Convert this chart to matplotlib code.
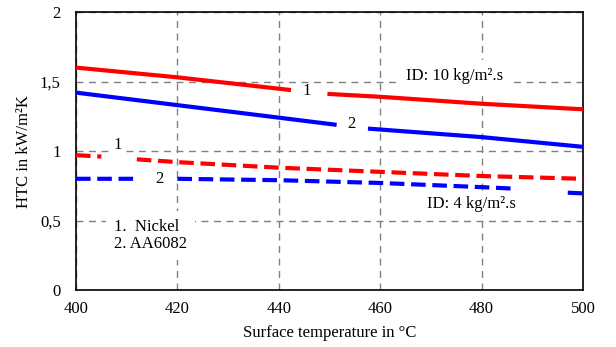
import numpy as np
import matplotlib.pyplot as plt

plt.rcParams['font.family'] = ['Liberation Serif', 'DejaVu Serif']

# surface temperature (C) and HTC (kW/m2K); nan = gap left for the labels
t_ni_10 = [400, 420, 442, np.nan, 450, 460, 480, 500]
htc_ni_10 = [1.60, 1.53, 1.44, np.nan, 1.41, 1.39, 1.34, 1.30]
t_al_10 = [400, 420, 440, 451, np.nan, 458, 480, 500]
htc_al_10 = [1.42, 1.33, 1.24, 1.19, np.nan, 1.16, 1.10, 1.03]
t_ni_4 = [400, 405, np.nan, 412, 420, 440, 460, 480, 500]
htc_ni_4 = [0.97, 0.96, np.nan, 0.94, 0.92, 0.88, 0.85, 0.82, 0.80]
t_al_4 = [400, 412, np.nan, 420, 440, 460, 480, 486, np.nan, 497, 500]
htc_al_4 = [0.80, 0.80, np.nan, 0.80, 0.79, 0.77, 0.74, 0.73, np.nan, 0.70, 0.695]

yticks = [0, 0.5, 1, 1.5, 2]
ylabels = ['0', '0,5', '1', '1,5', '2']

fig = plt.figure(figsize=(6.16, 3.47), dpi=100)
ax = fig.add_axes([76 / 616, 1 - 290 / 347, (583 - 76) / 616, (290 - 12) / 347])

dash = (0, (3.5, 1.6))
ax.plot(t_ni_10, htc_ni_10, color='#ff0000', lw=3, zorder=3)
ax.plot(t_al_10, htc_al_10, color='#0000ff', lw=3, zorder=3)
ax.plot(t_ni_4, htc_ni_4, color='#ff0000', lw=3, ls=dash, zorder=3)
ax.plot(t_al_4, htc_al_4, color='#0000ff', lw=3, ls=dash, zorder=3)

ax.set_xlim(400, 500)
ax.set_ylim(0, 2)
ax.set_xticks([400, 420, 440, 460, 480, 500])
ax.set_yticks(yticks)
ax.set_yticklabels(ylabels)
ax.tick_params(length=0, labelsize=12)
ax.tick_params(axis='y', pad=11)
ax.tick_params(axis='x', pad=8)
ax.grid(True, color='#808080', ls=(0, (5, 4)), lw=1)
for s in ax.spines.values():
    s.set_linewidth(1.2)

ax.set_xlabel('Surface temperature in °C', fontsize=12, labelpad=6)
ax.set_ylabel('HTC in kW/m²K', fontsize=12, labelpad=6)

box = dict(facecolor='white', edgecolor='none', pad=2)
ax.text(445.5, 1.435, '1', fontsize=12, ha='center', va='center')
ax.text(454.3, 1.195, '2', fontsize=12, ha='center', va='center')
ax.text(408.3, 1.04, '1', fontsize=12, ha='center', va='center', bbox=box)
ax.text(416.5, 0.80, '2', fontsize=12, ha='center', va='center')
ax.text(465, 1.54, 'ID: 10 kg/m².s', fontsize=12, va='center',
        bbox=dict(facecolor='white', edgecolor='none', pad=6))
ax.text(469.3, 0.62, 'ID: 4 kg/m².s', fontsize=12, va='center', bbox=box)
ax.text(407.5, 0.39, '1.  Nickel\n2. AA6082', fontsize=12, va='center',
        linespacing=1.05, bbox=dict(facecolor='white', edgecolor='none', pad=6))

fig.savefig('out.png', dpi=100)
